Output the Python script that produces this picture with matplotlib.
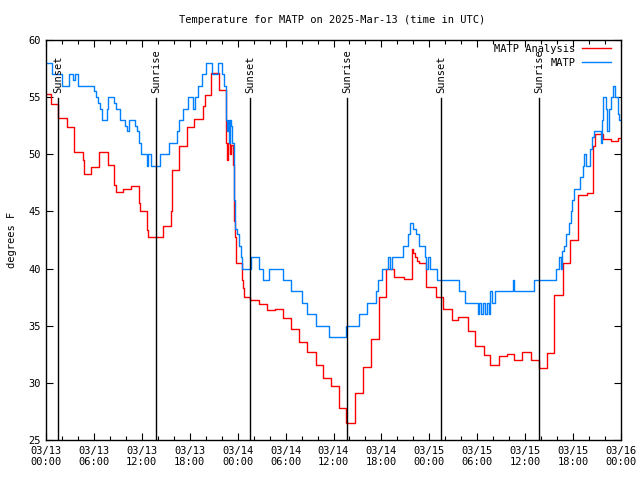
import matplotlib
matplotlib.use("Agg")
import matplotlib.pyplot as plt
import numpy as np

# ---- data (hours since 03/13 00:00 UTC, degrees F) ----
matp_t = [0, 0.75, 2.0, 2.9, 3.4, 3.6, 4.0, 6.0, 6.3, 6.5, 6.8, 7.0, 7.6, 7.8,
          8.5, 8.8, 9.3, 9.9, 10.1, 10.4, 11.1, 11.4, 11.6, 11.9, 12.6, 12.8, 13.1,
          14.3, 15.4, 16.4, 16.7, 17.2, 17.8, 18.4, 18.7, 19.0, 19.5, 20.0, 20.8,
          21.5, 22.0, 22.3, 22.5, 22.7, 22.8, 22.9, 23.0, 23.2, 23.35, 23.5, 23.6,
          23.7, 23.9, 24.2, 24.4, 24.6, 25.7, 26.7, 27.2, 27.9, 29.7, 30.7, 32.0,
          32.7, 33.8, 35.4, 37.6, 39.2, 40.2, 41.3, 41.6, 42.1, 42.8, 43.1, 43.3,
          44.7, 45.3, 45.6, 46.0, 46.3, 46.7, 47.5, 47.6, 47.8, 48.1, 49.0, 51.7,
          52.5, 54.1, 54.2, 54.5, 54.7, 55.0, 55.2, 55.5, 55.6, 55.8, 56.2, 58.5,
          58.6, 61.1, 63.9, 64.2, 64.5, 64.6, 64.9, 65.1, 65.5, 65.8, 65.9, 66.1,
          66.9, 67.2, 67.4, 67.6, 68.1, 68.4, 68.6, 69.5, 69.6, 69.7, 70.1, 70.3,
          70.5, 70.8, 71.0, 71.2, 71.6, 71.8, 72.0]
matp_v = [58, 57, 56, 57, 56.5, 57, 56, 55.5, 55, 54.5, 54, 53, 54, 55,
          54.5, 54, 53, 52.5, 52, 53, 52.5, 52, 51, 50, 49, 50, 49,
          50, 51, 52, 53, 54, 55, 54, 55, 56, 57, 58, 57,
          58, 57, 56, 53, 52, 53, 51, 53, 52.5, 51, 48, 46,
          43.5, 43, 42, 41, 40, 41, 40, 39, 40, 39, 38, 37,
          36, 35, 34, 35, 36, 37, 38, 39, 40, 41, 40, 41,
          42, 43, 44, 43.5, 43, 42, 41, 40, 41, 40, 39, 38,
          37, 36, 37, 36, 37, 36, 37, 36, 38, 37, 38, 39,
          38, 39, 40, 41, 40, 41.5, 42, 43, 44, 45, 46, 47,
          48, 49, 50, 49, 50.5, 51.5, 52, 51, 53, 55, 54, 52,
          54, 55, 56, 55, 53.5, 53, 53]

anal_t = [0, 0.6, 1.5, 2.6, 3.5, 4.6, 4.75, 5.6, 6.6, 7.8, 8.5, 8.8, 9.6, 10.6,
          11.6, 11.8, 12.6, 12.8, 14.6, 15.6, 15.8, 16.7, 17.6, 18.5, 19.7, 19.85,
          20.7, 21.7, 22.5, 22.6, 22.7, 22.85, 23.0, 23.2, 23.4, 23.6, 23.7, 23.85,
          24.5, 24.7, 24.8, 25.6, 26.7, 27.7, 28.7, 29.7, 30.7, 31.7, 32.7, 33.8,
          34.7, 35.7, 36.7, 37.6, 38.75, 39.75, 40.75, 41.7, 42.6, 43.6, 44.8, 45.8,
          45.95, 46.2, 46.5, 46.7, 47.6, 48.8, 49.65, 50.8, 51.65, 52.8, 53.7, 54.8,
          55.65, 56.7, 57.7, 58.65, 59.65, 60.7, 61.7, 62.7, 63.55, 64.7, 65.6, 66.6,
          67.7, 68.55, 68.8, 69.7, 70.7, 71.6, 72.0]
anal_v = [55.3, 54.4, 53.2, 52.4, 50.2, 49.5, 48.3, 48.9, 50.2, 49.1, 47.3, 46.7, 47.0, 47.2,
          45.7, 45.0, 43.4, 42.8, 43.7, 45.0, 48.6, 50.7, 52.35, 53.1, 54.2, 55.2,
          57.1, 55.6, 54.5, 51.0, 49.5, 51.0, 50.0, 50.8, 49.1, 44.2, 42.8, 40.5,
          39.0, 38.3, 37.5, 37.25, 36.9, 36.4, 36.5, 35.7, 34.7, 33.55, 32.7, 31.6,
          30.45, 29.7, 27.8, 26.5, 29.1, 31.4, 33.8, 37.5, 40.0, 39.3, 39.1, 41.7,
          41.4, 41.0, 40.7, 40.5, 38.4, 37.5, 36.5, 35.5, 35.8, 34.5, 33.2, 32.4,
          31.6, 32.35, 32.5, 32.0, 32.7, 32.0, 31.3, 32.6, 37.7, 40.5, 42.5, 46.4,
          46.6, 50.7, 51.8, 51.3, 51.2, 51.4, 51.4]

sun_t = [1.5, 13.77, 25.55, 37.7, 49.46, 61.73]
sun_labels = ["Sunset", "Sunrise", "Sunset", "Sunrise", "Sunset", "Sunrise"]

xtick_pos = [0, 6, 12, 18, 24, 30, 36, 42, 48, 54, 60, 66, 72]
xtick_labels = ["03/13\n00:00", "03/13\n06:00", "03/13\n12:00", "03/13\n18:00",
                "03/14\n00:00", "03/14\n06:00", "03/14\n12:00", "03/14\n18:00",
                "03/15\n00:00", "03/15\n06:00", "03/15\n12:00", "03/15\n18:00",
                "03/16\n00:00"]
ytick_pos = [25, 30, 35, 40, 45, 50, 55, 60]

plt.rcParams['font.family'] = ['DejaVu Sans Mono']
FS = 7.5

fig = plt.figure(figsize=(6.4, 4.8), dpi=100)
ax = fig.add_axes([46/640, 40/480, 575/640, 400/480])

ax.plot(anal_t, anal_v, color='#ff0000', lw=1.0, drawstyle='steps-post', label='MATP Analysis')
ax.plot(matp_t, matp_v, color='#0080ff', lw=1.0, drawstyle='steps-post', label='MATP')

for t, lab in zip(sun_t, sun_labels):
    ax.plot([t, t], [25, 54.9], color='black', lw=1.0)
    ax.text(t, 55.4, lab, rotation=90, ha='center', va='bottom', fontsize=FS)

ax.set_xlim(0, 72)
ax.set_ylim(25, 60)
ax.set_xticks(xtick_pos)
ax.set_xticklabels(xtick_labels, fontsize=FS)
ax.set_xticks(np.arange(0, 73, 2), minor=True)
ax.set_yticks(ytick_pos)
ax.set_yticklabels([str(v) for v in ytick_pos], fontsize=FS)
ax.tick_params(which='both', direction='in', top=True, right=True)
ax.tick_params(which='major', length=5, width=0.8, pad=4)
ax.tick_params(which='minor', length=3, width=0.8)
for s in ax.spines.values():
    s.set_linewidth(1.0)

ax.set_ylabel('degrees F', fontsize=FS, labelpad=8)
fig.suptitle('Temperature for MATP on 2025-Mar-13 (time in UTC)', fontsize=FS, x=332/640, y=1-20/480, va='center')

leg = ax.legend(loc='upper right', frameon=False, markerfirst=False, fontsize=FS,
                bbox_to_anchor=((612-46)/575, (440-43)/400),
                handlelength=2.8, labelspacing=0.35, borderaxespad=0.0,
                handletextpad=0.6, borderpad=0.1)

fig.savefig('out.png', dpi=100)
